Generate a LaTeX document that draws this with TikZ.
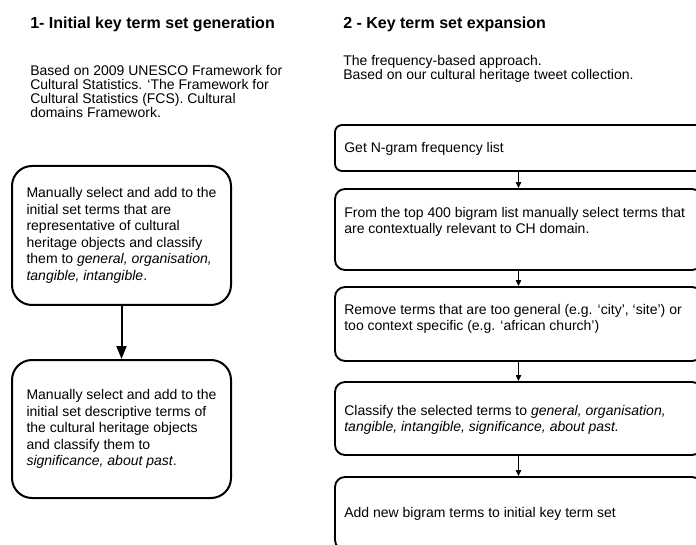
\documentclass[tikz,border=0pt]{standalone}
\usepackage{fontspec}
\setmainfont{Liberation Sans}
\usetikzlibrary{arrows.meta,calc}
\begin{document}
\begin{tikzpicture}[x=0.75pt,y=-0.75pt,
  title/.style={anchor=base west,inner sep=0pt,font=\fontsize{12pt}{14pt}\selectfont\bfseries},
  body/.style={anchor=north west,inner sep=0pt,align=left,font=\fontsize{10.5pt}{10.5pt}\selectfont},
  lbox/.style={draw=black,line width=1.5pt,rounded corners=15pt,minimum width=164.25pt,
     align=left,font=\fontsize{10.5pt}{12.4pt}\selectfont},
  rbox/.style={draw=black,line width=1.4pt,rounded corners=7.5pt,minimum width=275.25pt},
  rtext/.style={anchor=west,inner sep=0pt,align=left,font=\fontsize{10.5pt}{11.6pt}\selectfont},
  bigarrow/.style={line width=1.5pt,-{Triangle[length=9.75pt,width=7.5pt]}},
  smallarrow/.style={line width=0.8pt,-{Triangle[length=4.5pt,width=4pt]}}
]
\useasboundingbox (0,0) rectangle (696,545);
\clip (0,0) rectangle (696,545);

% column 1 headings
\node[title] (t1) at (30,28.5) {1- Initial key term set generation};
\node[body] (b1) at (30,65) {Based on 2009 UNESCO Framework for\\Cultural Statistics. ‘The Framework for\\Cultural Statistics (FCS). Cultural\\domains Framework.};

% column 2 headings
\node[title] (t2) at (343,28.5) {2 - Key term set expansion};
\node[body] (b2) at (343,55.5) {The frequency-based approach.\\Based on our cultural heritage tweet collection.};

% left boxes
\node[lbox,minimum height=104.25pt] (L1) at (121.5,235.5) {Manually select and add to the\\initial set terms that are\\representative of cultural\\heritage objects and classify\\them to \textit{general, organisation,}\\\textit{tangible, intangible}.};
\node[lbox,minimum height=103.5pt] (L2) at (121.5,429) {Manually select and add to the\\initial set descriptive terms of\\the cultural heritage objects\\and classify them to\\\textit{significance, about past}.};
\draw[bigarrow] (L1.south) -- (L2.north);

% right boxes
\node[rbox,rounded corners=5.25pt,minimum height=34.5pt] (A) at (518.5,148) {};
\node[rbox,minimum height=60.75pt] (B) at (518.5,229.5) {};
\node[rbox,minimum height=55.5pt] (C) at (518.5,324) {};
\node[rbox,minimum height=54.75pt] (D) at (518.5,418.5) {};
\node[rbox,minimum height=54.75pt] (E) at (518.5,513.5) {};

\node[rtext] (Atext) at ($(A.west)+(10,1)$) {Get N-gram frequency list};
\node[rtext] (Btext) at ($(B.west)+(10,-7.5)$) {From the top 400 bigram list manually select terms that\\are contextually relevant to CH domain.};
\node[rtext] (Ctext) at ($(C.west)+(10,-5)$) {Remove terms that are too general (e.g. ‘city’, ‘site’) or\\too context specific (e.g. ‘african church’)};
\node[rtext] (Dtext) at ($(D.west)+(10,1.5)$) {Classify the selected terms to \textit{general, organisation,}\\\textit{tangible, intangible, significance, about past.}};
\node[rtext] (Etext) at ($(E.west)+(10,0)$) {Add new bigram terms to initial key term set};

\draw[smallarrow] (A.south) -- (B.north);
\draw[smallarrow] (B.south) -- (C.north);
\draw[smallarrow] (C.south) -- (D.north);
\draw[smallarrow] (D.south) -- (E.north);
\end{tikzpicture}
\end{document}
